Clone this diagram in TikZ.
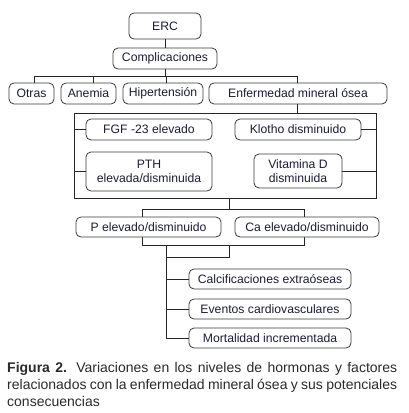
\documentclass[tikz,border=0pt]{standalone}
\usepackage{fontspec}
\setmainfont{Liberation Sans}
\definecolor{boxline}{HTML}{3A3A3A}
\definecolor{boxtext}{HTML}{1C1C36}
\definecolor{captext}{HTML}{2A2A2A}
\begin{document}
\begin{tikzpicture}[x=1pt,y=-1pt,
  box/.style={draw=boxline, line width=0.8pt, rounded corners=5pt, fill=white,
    text=boxtext, font=\fontsize{12.2}{14}\selectfont, inner sep=0pt, align=center},
  conn/.style={draw=black!85, line width=0.8pt}]
\useasboundingbox (0,0) rectangle (408,413);
% top
\node[box, minimum width=72pt, minimum height=26pt] (erc) at (165,26) {ERC};
\node[box, minimum width=104pt, minimum height=21pt] (comp) at (165,58.5) {Complicaciones};
\node[box, minimum width=45pt, minimum height=21pt] (otras) at (31.5,93.5) {Otras};
\node[box, minimum width=55pt, minimum height=21pt] (anemia) at (88.5,93.5) {Anemia};
\node[box, minimum width=80pt, minimum height=21pt] (hiper) at (163,93.5) {Hipertensión};
\node[box, minimum width=178pt, minimum height=21pt] (enf) at (298,93.5) {Enfermedad mineral ósea};
\draw[conn] (erc.south) -- (comp.north);
\coordinate (bus) at (165,76);
\draw[conn] (comp.south) -- (bus);
\draw[conn] ([xshift=2.5pt]otras.north) |- (bus);
\draw[conn] ([xshift=-1pt]enf.north) |- (bus);
\draw[conn] ([xshift=4.5pt]anemia.north) -- ([xshift=4.5pt]anemia.north |- bus);
\draw[conn] ([xshift=3pt]hiper.north) -- ([xshift=3pt]hiper.north |- bus);
% frame
\node[draw=black!85, line width=0.8pt, minimum width=302pt, minimum height=85pt, inner sep=0pt] (frame) at (225,155.5) {};
\draw[conn] ([xshift=-1pt]enf.south) -- ([xshift=-1pt]enf.south |- frame.north);
\node[box, minimum width=126pt, minimum height=21pt] (fgf) at (149,129.5) {FGF -23 elevado};
\node[box, minimum width=126pt, minimum height=21pt] (klotho) at (298,129.5) {Klotho disminuido};
\node[box, minimum width=126pt, minimum height=39pt] (pth) at (149,171.5) {PTH\\elevada/disminuida};
\node[box, minimum width=88pt, minimum height=34pt] (vitd) at (298,171) {Vitamina D\\disminuida};
\draw[conn] (fgf.west) -- (fgf.west -| frame.west);
\draw[conn] (pth.west) -- (pth.west -| frame.west);
\draw[conn] (klotho.east) -- (klotho.east -| frame.east);
\draw[conn] (vitd.east) -- (vitd.east -| frame.east);
% bracket
\coordinate (j1) at (229,209);
\coordinate (bl) at (142,209);
\coordinate (br) at (304,209);
\coordinate (cl) at (142,245);
\coordinate (cr) at (304,245);
\coordinate (t0) at (166,245);
\coordinate (j2) at (229,245);
\coordinate (j3) at (229,257);
\draw[conn] (frame.south -| j1) -- (j1);
\draw[conn] (bl) -- (br) -- (cr) -- (cl) -- cycle;
\node[box, minimum width=145pt, minimum height=20pt] (p) at (148.5,227) {P elevado/disminuido};
\node[box, minimum width=144pt, minimum height=20pt] (ca) at (307,227) {Ca elevado/disminuido};
\draw[conn] (j2) -- (j3) -| (t0);
% consequences
\node[box, minimum width=162pt, minimum height=20pt] (calc) at (270,279) {Calcificaciones extraóseas};
\node[box, minimum width=162pt, minimum height=20pt] (evt) at (270,309) {Eventos cardiovasculares};
\node[box, minimum width=162pt, minimum height=20pt] (mort) at (270,338) {Mortalidad incrementada};
\draw[conn] (t0) |- (mort.west);
\draw[conn] (calc.west -| t0) -- (calc.west);
\draw[conn] (evt.west -| t0) -- (evt.west);
% caption
\node[anchor=north west, inner sep=0pt, text width=390pt, align=justify, text=captext,
  font=\fontsize{14}{17}\selectfont] (cap) at (7,362.3)
  {\textbf{Figura 2.} Variaciones en los niveles de hormonas y factores\linebreak relacionados con la enfermedad mineral ósea y sus potenciales\linebreak consecuencias};
\end{tikzpicture}
\end{document}
